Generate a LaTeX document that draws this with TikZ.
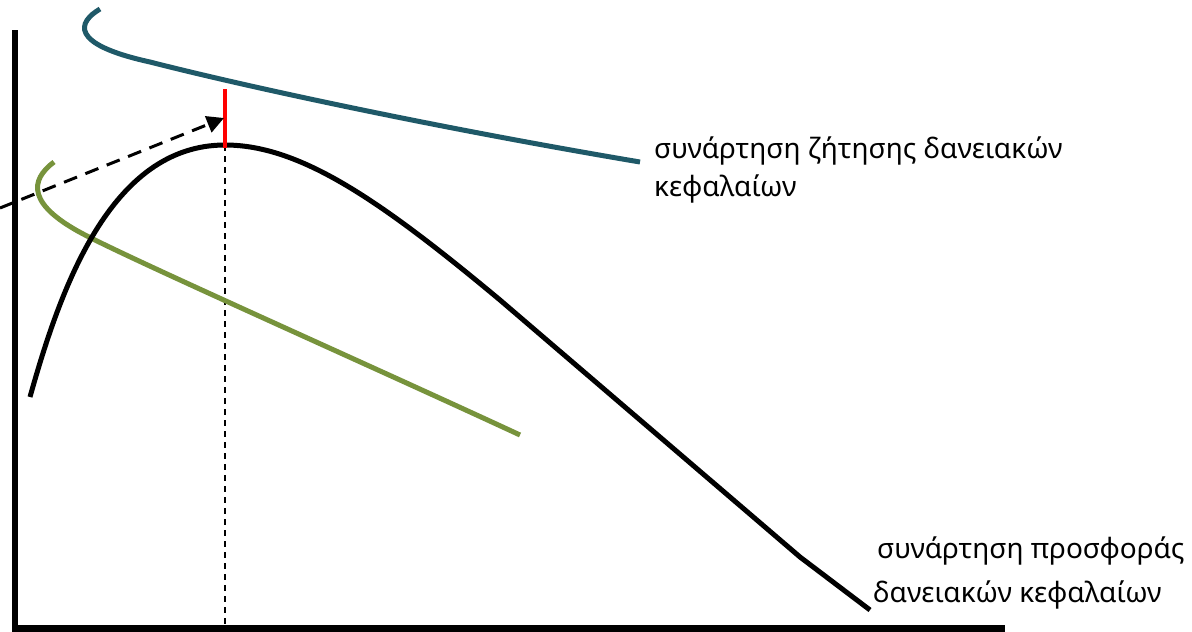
\documentclass[tikz,border=0pt]{standalone}
\usepackage{fontspec}
\setmainfont{Noto Sans}
\usetikzlibrary{arrows.meta}
\definecolor{teal1}{RGB}{31,89,104}
\definecolor{olive1}{RGB}{119,147,60}
\tikzset{
  axisline/.style={line width=6.5pt, black},
  curve/.style={line width=5pt, line cap=butt},
  lbl/.style={anchor=base west, inner sep=0pt, font=\fontsize{28}{32}\selectfont},
}
\begin{document}
\begin{tikzpicture}[x=1pt,y=-1pt]
\useasboundingbox (0,0) rectangle (1192,632);
% axes
\draw[axisline] (15,30) -- (15,632);
\draw[axisline] (12,628.5) -- (1005,628.5);
% thin dashed vertical
\coordinate (peak) at (225,145);
\coordinate (foot) at (225,628);
\draw[line width=1.5pt, dash pattern=on 6pt off 5pt] (peak) -- (foot);
% teal demand curve
\draw[curve, teal1] (100,9) .. controls (78,22) and (68,44) .. (150,62)
   .. controls (260,90) and (450,130) .. (640,162);
% olive curve
\draw[curve, olive1] (54,162) .. controls (30,180) and (25,205) .. (89,237)
   .. controls (150,268) and (380,370) .. (520,435);
% black supply curve
\draw[curve, black] (30,397) .. controls (60,290) and (110,145) .. (peak)
   .. controls (300,145) and (380,200) .. (500,300) -- (800,557) -- (870,610);
% red segment
\coordinate (rtop) at (225,89);
\draw[line width=4pt, red] (rtop) -- (225,148);
% dashed arrow
\coordinate (astart) at (0,208);
\coordinate (atip) at (224,118);
\draw[line width=3pt, dash pattern=on 14pt off 9pt, -{Triangle[length=17pt,width=17pt]}] (astart) -- (atip);
% labels
\node[lbl] (d1) at (654,158) {συνάρτηση ζήτησης δανειακών};
\node[lbl] (d2) at (654,196) {κεφαλαίων};
\node[lbl] (s1) at (877,558) {συνάρτηση προσφοράς};
\node[lbl] (s2) at (873,602) {δανειακών κεφαλαίων};
\end{tikzpicture}
\end{document}
